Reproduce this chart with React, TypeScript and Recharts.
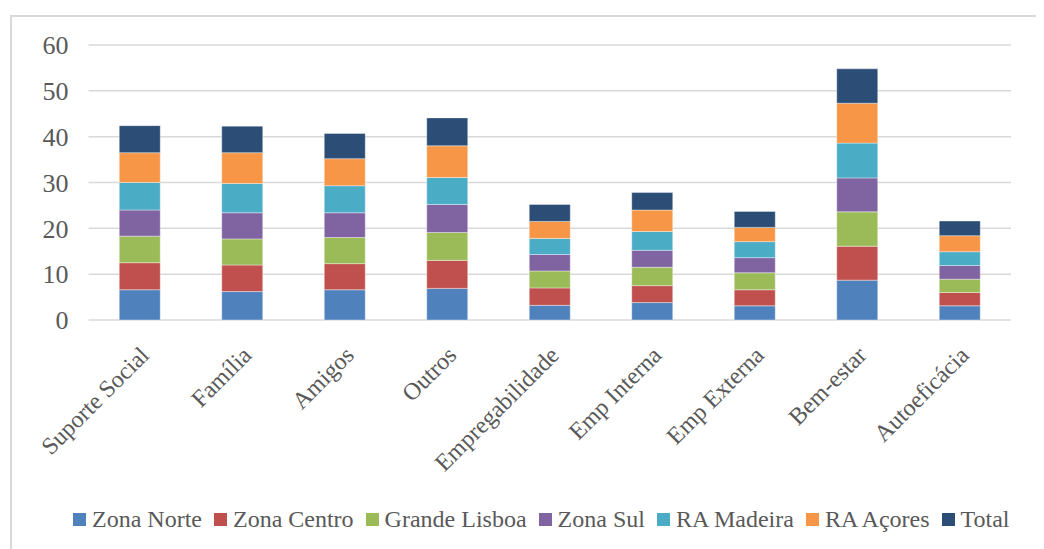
import React from "react";
import { BarChart, Bar, XAxis, YAxis, CartesianGrid, Legend } from "recharts";

const categories = ["Suporte Social", "Família", "Amigos", "Outros", "Empregabilidade", "Emp Interna", "Emp Externa", "Bem-estar", "Autoeficácia"];
const zonaNorte = [6.6, 6.2, 6.6, 6.9, 3.2, 3.8, 3.1, 8.7, 3.1];
const zonaCentro = [5.9, 5.8, 5.7, 6.1, 3.8, 3.7, 3.5, 7.4, 2.9];
const grandeLisboa = [5.8, 5.7, 5.7, 6.1, 3.7, 4.0, 3.7, 7.5, 2.9];
const zonaSul = [5.7, 5.7, 5.4, 6.1, 3.6, 3.7, 3.3, 7.4, 3.0];
const raMadeira = [6.0, 6.4, 5.9, 5.9, 3.5, 4.1, 3.5, 7.6, 3.0];
const raAcores = [6.5, 6.7, 5.9, 6.9, 3.7, 4.7, 3.1, 8.7, 3.5];
const total = [5.9, 5.8, 5.5, 6.1, 3.7, 3.8, 3.5, 7.5, 3.2];
const yTicks = [0, 10, 20, 30, 40, 50, 60];

const series = [
  { key: "zn", name: "Zona Norte", values: zonaNorte, color: "#4F81BD" },
  { key: "zc", name: "Zona Centro", values: zonaCentro, color: "#C0504D" },
  { key: "gl", name: "Grande Lisboa", values: grandeLisboa, color: "#9BBB59" },
  { key: "zs", name: "Zona Sul", values: zonaSul, color: "#8064A2" },
  { key: "rm", name: "RA Madeira", values: raMadeira, color: "#4BACC6" },
  { key: "ra", name: "RA Açores", values: raAcores, color: "#F79646" },
  { key: "tt", name: "Total", values: total, color: "#2C4D75" },
];

const data = categories.map((c, i) => {
  const row: any = { name: c };
  series.forEach((s) => (row[s.key] = s.values[i]));
  return row;
});

const FONT = "'Liberation Serif', serif";
const TXT = "#595959";
const FS = 24;

const XTick = (props: any) => {
  const { x, y, payload } = props;
  return (
    <g transform={`translate(${x + 5},${y + 23})`}>
      <text
        x={0}
        y={0}
        dy={8}
        textAnchor="end"
        transform="rotate(-45)"
        fill={TXT}
        fontSize={FS}
        fontFamily={FONT}
      >
        {payload.value}
      </text>
    </g>
  );
};

const LegendContent = () => (
  <div
    style={{
      position: "absolute",
      left: 65,
      top: 0,
      display: "flex",
      alignItems: "center",
      whiteSpace: "nowrap",
      fontFamily: FONT,
      fontSize: FS,
      color: TXT,
    }}
  >
    {series.map((s) => (
      <span key={s.key} style={{ display: "inline-flex", alignItems: "center", marginRight: 12, whiteSpace: "nowrap" }}>
        <span style={{ display: "inline-block", width: 13, height: 13, background: s.color, marginRight: 6 }} />
        {s.name}
      </span>
    ))}
  </div>
);

export default function App() {
  return (
    <div style={{ position: "relative", width: 1036, height: 541, background: "#fff" }}>
      <div
        style={{
          position: "absolute",
          left: 2,
          top: 7,
          width: 1100,
          height: 600,
          borderLeft: "2px solid #d9d9d9",
          borderTop: "2px solid #d9d9d9",
          pointerEvents: "none",
        }}
      />
      <BarChart
        width={1036}
        height={541}
        data={data}
        margin={{ top: 37, right: 33, left: 0, bottom: 0 }}
        barCategoryGap="30%"
      >
        <CartesianGrid vertical={false} stroke="#d9d9d9" strokeWidth={1.5} />
        <XAxis
          dataKey="name"
          height={189}
          axisLine={false}
          tickLine={false}
          interval={0}
          tick={<XTick />}
        />
        <YAxis
          width={80.5}
          domain={[0, 60]}
          ticks={yTicks}
          axisLine={false}
          tickLine={false}
          tickMargin={14}
          tick={{ fill: TXT, fontSize: 26, fontFamily: FONT }}
        />
        <Legend
          verticalAlign="bottom"
          height={40}
          content={<LegendContent />}
          wrapperStyle={{ bottom: 3, left: 0, width: 1036, height: 40 }}
        />
        {series.map((s) => (
          <Bar
            key={s.key}
            dataKey={s.key}
            name={s.name}
            stackId="a"
            fill={s.color}
            stroke="#ffffff"
            strokeOpacity={0.5}
            strokeWidth={0.75}
            isAnimationActive={false}
          />
        ))}
      </BarChart>
    </div>
  );
}
